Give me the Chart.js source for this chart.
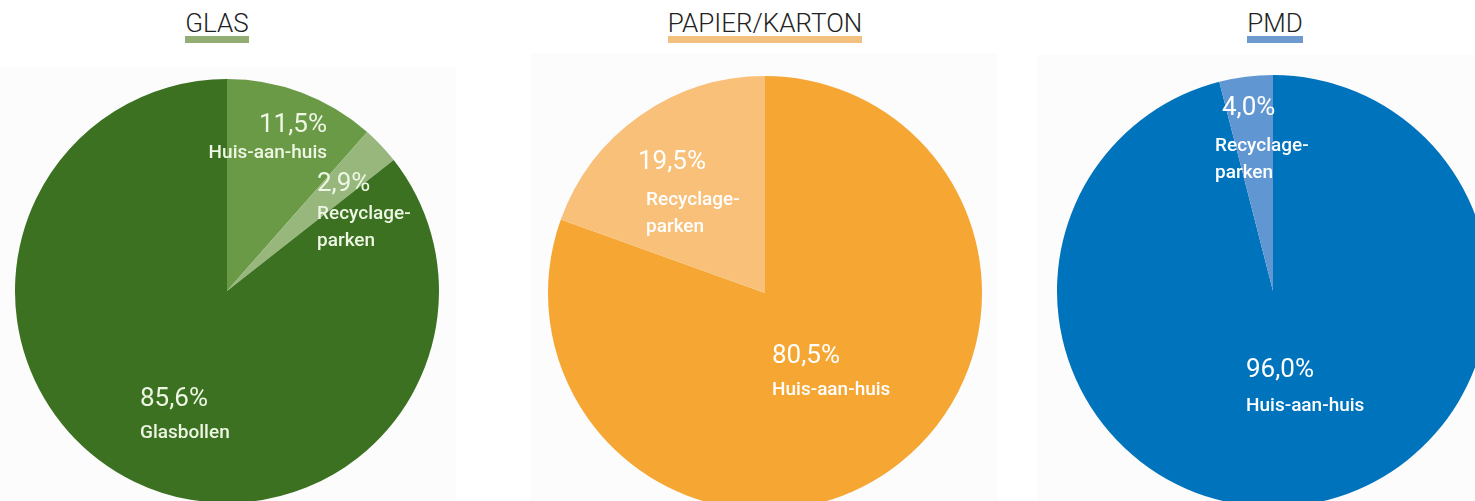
<!DOCTYPE html>
<html>
<head>
<meta charset="utf-8">
<script src="https://cdn.jsdelivr.net/npm/chart.js@4"></script>
<style>
  html, body { margin: 0; padding: 0; background: #fff; }
  body { width: 1475px; height: 501px; position: relative; overflow: hidden; font-family: Roboto, sans-serif; }
  .panel { position: absolute; background: #fcfcfc; }
  .title { position: absolute; top: 11px; width: 300px; text-align: center; }
  .title span { display: inline-block; font-size: 26px; font-weight: 300; line-height: 25px; color: #222; border-bottom: 7px solid; }
  .pie { position: absolute; }
</style>
</head>
<body>
<div class="panel" style="left:0;top:67px;width:456px;height:434px"></div>
<div class="panel" style="left:530px;top:53px;width:468px;height:448px"></div>
<div class="panel" style="left:1037px;top:55px;width:438px;height:446px"></div>

<div class="title" style="left:67px"><span style="border-color:#93ae74">GLAS</span></div>
<div class="title" style="left:615px"><span style="border-color:#f2c17f">PAPIER/KARTON</span></div>
<div class="title" style="left:1125px"><span style="border-color:#6e9ad0">PMD</span></div>

<div class="pie" style="left:15px;top:79px;width:424px;height:424px"><canvas id="glas"></canvas></div>
<div class="pie" style="left:548px;top:76px;width:434px;height:434px"><canvas id="papier"></canvas></div>
<div class="pie" style="left:1057px;top:75px;width:432px;height:432px"><canvas id="pmd"></canvas></div>

<script>
// data
const glasLabels = ['Huis-aan-huis', 'Recyclage-\nparken', 'Glasbollen'];
const glasValues = [11.5, 2.9, 85.6];
const papierLabels = ['Huis-aan-huis', 'Recyclage-\nparken'];
const papierValues = [80.5, 19.5];
const pmdLabels = ['Huis-aan-huis', 'Recyclage-\nparken'];
const pmdValues = [96.0, 4.0];

// label placement relative to pie centre: [dx, dyPct, dyName, align, nameDx]
const glasPos = [[100, -166, -138, 'right', 0], [90, -107, -77, 'left', 0], [-87, 108, 142, 'left', 0]];
const papierPos = [[7, 63, 97, 'left', 0], [-127, -131, -93, 'left', 8]];
const pmdPos = [[-27, 79, 115, 'left', 0], [-51, -183, -145, 'left', -7]];

const sliceLabels = {
    id: 'sliceLabels',
    afterDatasetsDraw(chart, args, opts) {
        const ctx = chart.ctx;
        const meta = chart.getDatasetMeta(0);
        const values = chart.data.datasets[0].data;
        ctx.save();
        ctx.fillStyle = opts.color;
        ctx.textBaseline = 'middle';
        meta.data.forEach((arc, i) => {
            const p = opts.pos[i];
            const x = arc.x + p[0];
            ctx.textAlign = p[3];
            ctx.font = '400 26px Roboto';
            ctx.fillText(values[i].toFixed(1).replace('.', ',') + '%', x, arc.y + p[1]);
            ctx.font = '500 19px Roboto';
            chart.data.labels[i].split('\n').forEach((line, j) => {
                ctx.fillText(line, x + p[4], arc.y + p[2] + j * 27);
            });
        });
        ctx.restore();
    }
};

function makePie(id, labels, values, colors, pos, textColor) {
    new Chart(document.getElementById(id), {
        type: 'pie',
        data: {
            labels: labels,
            datasets: [{ data: values, backgroundColor: colors, borderWidth: 0 }]
        },
        options: {
            responsive: true,
            maintainAspectRatio: false,
            animation: false,
            layout: { padding: 0 },
            plugins: {
                legend: { display: false },
                tooltip: { enabled: false },
                sliceLabels: { pos: pos, color: textColor }
            }
        },
        plugins: [sliceLabels]
    });
}

makePie('glas', glasLabels, glasValues, ['#6b9a47', '#97b77d', '#3b7121'], glasPos, '#eef6e4');
makePie('papier', papierLabels, papierValues, ['#f5a633', '#f8c078'], papierPos, '#ffffff');
makePie('pmd', pmdLabels, pmdValues, ['#0073bd', '#6096d2'], pmdPos, '#ffffff');
</script>
</body>
</html>
